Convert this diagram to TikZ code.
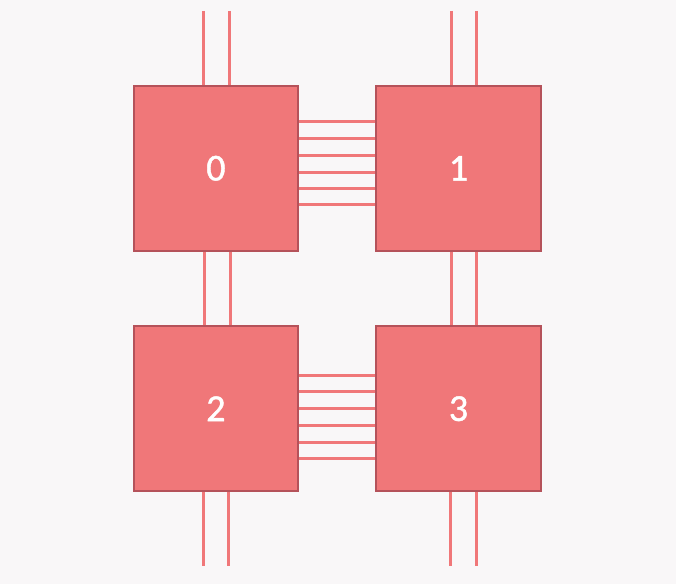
\documentclass[tikz,border=0pt]{standalone}
\usepackage{fontspec}
\setsansfont{Carlito}
\usetikzlibrary{positioning}
\definecolor{paperbg}{HTML}{F9F7F8}
\definecolor{tilefill}{HTML}{F07779}
\definecolor{tileedge}{HTML}{B5525A}

\begin{document}
\begin{tikzpicture}[
    x=0.75pt,y=-0.75pt,
    tile/.style={draw=tileedge,line width=1.5pt,fill=tilefill,
        minimum width=123.5pt,minimum height=124pt,inner sep=0pt,
        text=white,font=\sffamily\fontsize{28.5}{33}\selectfont\addfontfeature{FakeBold=1.2}},
    wire/.style={draw=tilefill,line width=2.25pt}
]
% Background and margins.
\fill[paperbg] (0,0) rectangle (676,584);
\useasboundingbox (0,0) rectangle (676,584);
% The four tiles.
\node[tile] (t0) at (215.9,168.3) {0};
\node[tile] (t1) at (458.5,168.3) {1};
\node[tile] (t2) at (215.9,408.7) {2};
\node[tile] (t3) at (458.5,408.7) {3};
% Links between the tiles side by side.
\foreach \y in {121.3,138.3,156.0,172.5,189.0,204.5}
    \draw[wire] (t0.east |- 0,\y) -- (t1.west |- 0,\y);
\foreach \y in {375.3,391.5,409.0,426.0,442.3,458.3}
    \draw[wire] (t2.east |- 0,\y) -- (t3.west |- 0,\y);
% Links between the tiles one above the other.
\foreach \x in {204.3,230.3}
    \draw[wire] (t0.south -| \x,0) -- (t2.north -| \x,0);
\foreach \x in {451.0,476.3}
    \draw[wire] (t1.south -| \x,0) -- (t3.north -| \x,0);
% Free ends above and below.
\foreach \x [count=\i] in {203.3,229.3}{
    \coordinate (up0\i) at (\x,11);
    \draw[wire] (up0\i) -- (t0.north -| up0\i);
}
\foreach \x [count=\i] in {451.0,476.3}{
    \coordinate (up1\i) at (\x,11);
    \draw[wire] (up1\i) -- (t1.north -| up1\i);
}
\foreach \x [count=\i] in {203.0,228.5}{
    \coordinate (down2\i) at (\x,566);
    \draw[wire] (t2.south -| down2\i) -- (down2\i);
}
\foreach \x [count=\i] in {450.3,476.3}{
    \coordinate (down3\i) at (\x,566);
    \draw[wire] (t3.south -| down3\i) -- (down3\i);
}
\end{tikzpicture}
\end{document}
